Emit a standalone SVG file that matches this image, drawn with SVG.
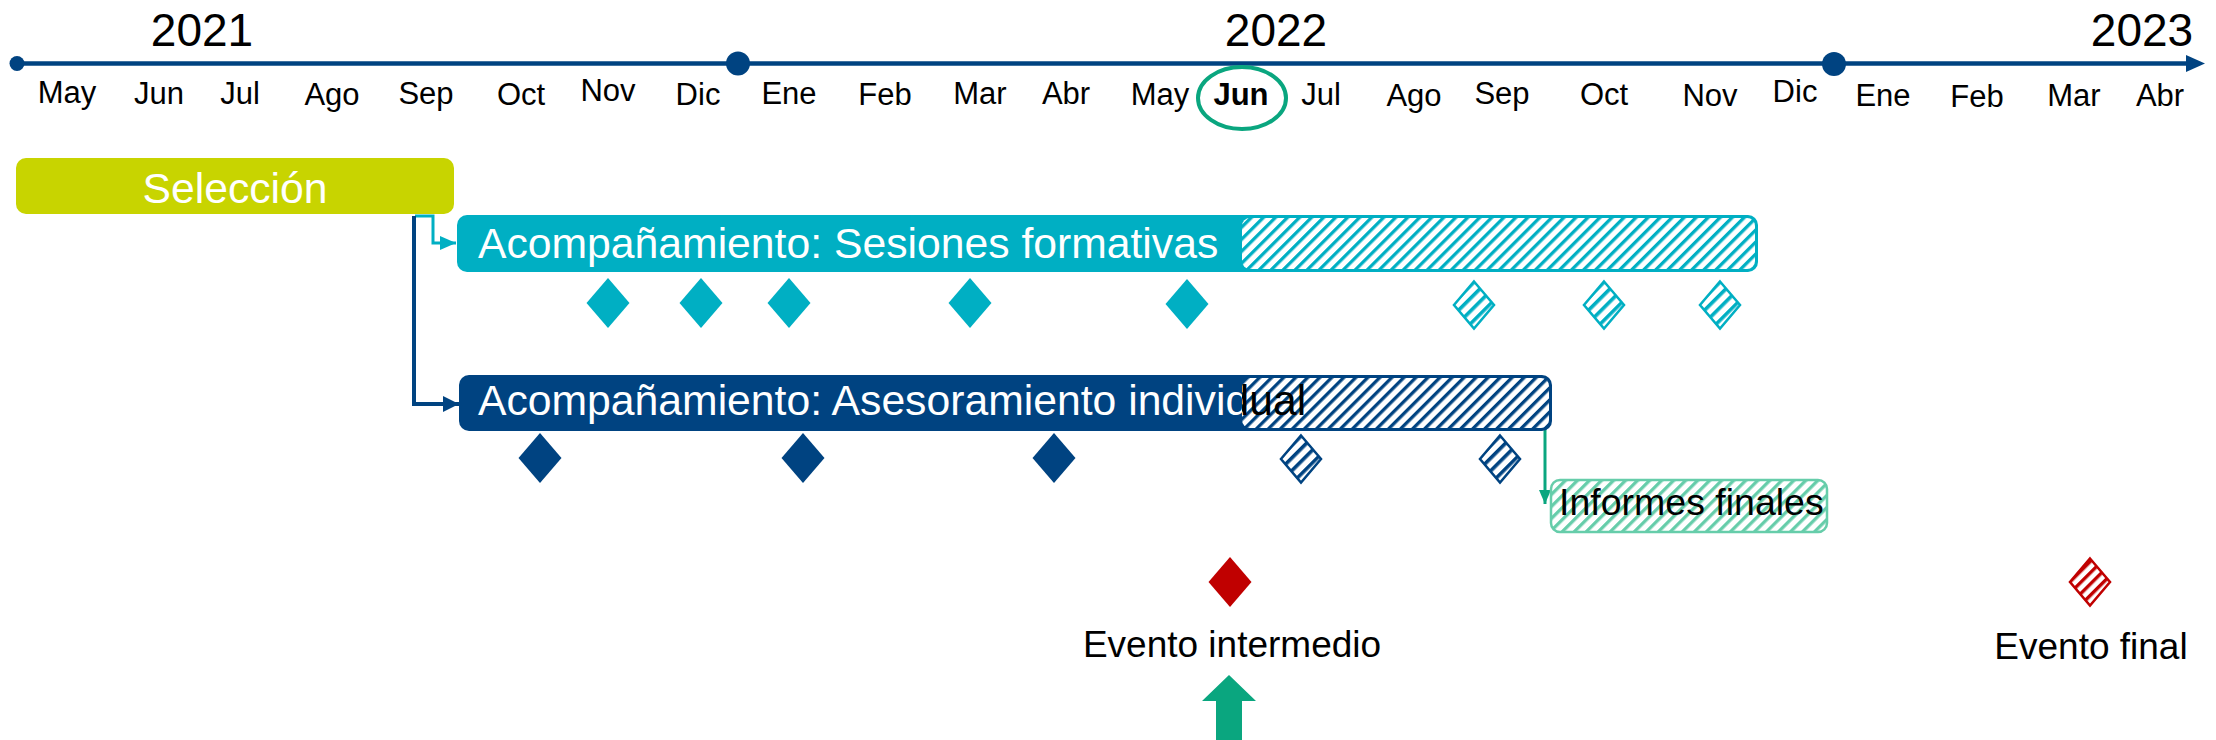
<svg xmlns="http://www.w3.org/2000/svg" width="2216" height="740" viewBox="0 0 2216 740">
<style>
text{font-family:"Liberation Sans",Arial,sans-serif;}
.yr{font-size:46px;fill:#000;text-anchor:middle;}
.mo{font-size:31px;fill:#000;text-anchor:middle;}
.bt{font-size:42.7px;fill:#fff;}
.ev{font-size:37px;fill:#000;text-anchor:middle;}
.dT{fill:#00AFC3;}
.dB{fill:#004381;}
.dR{fill:#C00000;}
.hdT{fill:url(#dhTeal);stroke:#00AFC3;stroke-width:2.5;}
.hdB{fill:url(#dhBlue);stroke:#004381;stroke-width:2.5;}
.hdR{fill:url(#dhRed);stroke:#C00000;stroke-width:2.5;}
</style>
<defs>
<pattern id="hTeal" width="8.5" height="8.5" patternUnits="userSpaceOnUse" patternTransform="rotate(45)"><rect width="8.5" height="8.5" fill="#fff"/><rect width="3.3" height="8.5" fill="#00AFC3"/></pattern>
<pattern id="hBlue" width="8.5" height="8.5" patternUnits="userSpaceOnUse" patternTransform="rotate(45)"><rect width="8.5" height="8.5" fill="#fff"/><rect width="3.3" height="8.5" fill="#004381"/></pattern>
<pattern id="hGreen" width="8.5" height="8.5" patternUnits="userSpaceOnUse" patternTransform="rotate(45)"><rect width="8.5" height="8.5" fill="#fff"/><rect width="3.3" height="8.5" fill="#66CDAA"/></pattern>
<pattern id="dhTeal" width="9" height="9" patternUnits="userSpaceOnUse" patternTransform="rotate(45)"><rect width="9" height="9" fill="#fff"/><rect width="3.6" height="9" fill="#00AFC3"/></pattern>
<pattern id="dhBlue" width="9" height="9" patternUnits="userSpaceOnUse" patternTransform="rotate(45)"><rect width="9" height="9" fill="#fff"/><rect width="3.6" height="9" fill="#004381"/></pattern>
<pattern id="dhRed" width="8" height="8" patternUnits="userSpaceOnUse" patternTransform="rotate(45)"><rect width="8" height="8" fill="#fff"/><rect width="3.4" height="8" fill="#C00000"/></pattern>
<path id="dia" d="M0,-25 L21.5,0 L0,25 L-21.5,0 Z"/>
<path id="diah" d="M0,-23.5 L20,0 L0,23.5 L-20,0 Z"/>
<marker id="aTeal" markerUnits="userSpaceOnUse" markerWidth="16" markerHeight="14" refX="16" refY="7" orient="auto"><path d="M0,0 L16,7 L0,14 Z" fill="#00AFC3"/></marker>
<marker id="aBlue" markerUnits="userSpaceOnUse" markerWidth="16" markerHeight="16" refX="16" refY="8" orient="auto"><path d="M0,0 L16,8 L0,16 Z" fill="#004381"/></marker>
<marker id="aGreen" markerUnits="userSpaceOnUse" markerWidth="14" markerHeight="12" refX="14" refY="6" orient="auto"><path d="M0,0 L14,6 L0,12 Z" fill="#0AA67F"/></marker>
<clipPath id="cLeft"><rect x="0" y="0" width="1242" height="740"/></clipPath>
<clipPath id="cRight"><rect x="1242" y="0" width="974" height="740"/></clipPath>
</defs>

<g id="timeline">
<line x1="17" y1="63.5" x2="2188" y2="63.5" stroke="#004381" stroke-width="4.5"/>
<path d="M2186,55 L2205,63.5 L2186,72 Z" fill="#004381"/>
<circle cx="17" cy="63.5" r="7.5" fill="#004381"/>
<circle cx="738" cy="63.5" r="12" fill="#004381"/>
<circle cx="1834" cy="64" r="12" fill="#004381"/>
<text class="yr" x="202" y="46">2021</text>
<text class="yr" x="1276" y="46">2022</text>
<text class="yr" x="2142" y="46">2023</text>
<text class="mo" x="67" y="103">May</text>
<text class="mo" x="159" y="104">Jun</text>
<text class="mo" x="240" y="104">Jul</text>
<text class="mo" x="332" y="105">Ago</text>
<text class="mo" x="426" y="104">Sep</text>
<text class="mo" x="521" y="105">Oct</text>
<text class="mo" x="608" y="101">Nov</text>
<text class="mo" x="698" y="105">Dic</text>
<text class="mo" x="789" y="104">Ene</text>
<text class="mo" x="885" y="105">Feb</text>
<text class="mo" x="980" y="104">Mar</text>
<text class="mo" x="1066" y="104">Abr</text>
<text class="mo" x="1160" y="105">May</text>
<text class="mo" x="1241" y="105" font-weight="bold">Jun</text>
<text class="mo" x="1321" y="105">Jul</text>
<text class="mo" x="1414" y="106">Ago</text>
<text class="mo" x="1502" y="104">Sep</text>
<text class="mo" x="1604" y="105">Oct</text>
<text class="mo" x="1710" y="106">Nov</text>
<text class="mo" x="1795" y="102">Dic</text>
<text class="mo" x="1883" y="106">Ene</text>
<text class="mo" x="1977" y="107">Feb</text>
<text class="mo" x="2074" y="106">Mar</text>
<text class="mo" x="2160" y="106">Abr</text>
<ellipse cx="1242" cy="98" rx="44" ry="31" fill="none" stroke="#0AA67F" stroke-width="4"/>
</g>

<g id="connectors" fill="none">
<path d="M415,216 H433 V243 H456" stroke="#00AFC3" stroke-width="3" marker-end="url(#aTeal)"/>
<path d="M414,216 V404 H459" stroke="#004381" stroke-width="4" marker-end="url(#aBlue)"/>
<path d="M1545,401 V504" stroke="#0AA67F" stroke-width="3" marker-end="url(#aGreen)"/>
</g>

<g id="seleccion">
<rect x="16" y="158" width="438" height="56" rx="10" fill="#C8D400"/>
<text class="bt" x="235" y="203" text-anchor="middle">Selección</text>
</g>

<g id="sesiones">
<rect x="457" y="215" width="1301" height="57" rx="10" fill="#00AFC3"/>
<rect x="1242" y="218" width="513" height="51" rx="8" fill="url(#hTeal)"/>
<text class="bt" x="478" y="258">Acompañamiento: Sesiones formativas</text>
</g>

<g id="asesoramiento">
<rect x="459" y="375" width="1093" height="56" rx="10" fill="#004381"/>
<rect x="1242" y="378" width="307" height="50" rx="8" fill="url(#hBlue)"/>
<text class="bt" x="478" y="415" clip-path="url(#cLeft)">Acompañamiento: Asesoramiento individual</text>
<text class="bt" x="478" y="415" style="fill:#000" clip-path="url(#cRight)">Acompañamiento: Asesoramiento individual</text>
</g>

<g id="informes">
<rect x="1551" y="480" width="276" height="52" rx="9" fill="url(#hGreen)" stroke="#66CDAA" stroke-width="2.5"/>
<text x="1559" y="515" font-size="37.5" fill="#000">Informes finales</text>
</g>

<g id="hitos-sesiones">
<use href="#dia" x="608" y="303" class="dT"/>
<use href="#dia" x="701" y="303" class="dT"/>
<use href="#dia" x="789" y="303" class="dT"/>
<use href="#dia" x="970" y="303" class="dT"/>
<use href="#dia" x="1187" y="304" class="dT"/>
<use href="#diah" x="1474" y="305" class="hdT"/>
<use href="#diah" x="1604" y="305" class="hdT"/>
<use href="#diah" x="1720" y="305" class="hdT"/>
</g>

<g id="hitos-asesoramiento">
<use href="#dia" x="540" y="458" class="dB"/>
<use href="#dia" x="803" y="458" class="dB"/>
<use href="#dia" x="1054" y="458" class="dB"/>
<use href="#diah" x="1301" y="459" class="hdB"/>
<use href="#diah" x="1500" y="459" class="hdB"/>
</g>

<g id="evento-intermedio">
<use href="#dia" x="1230" y="582" class="dR"/>
<text class="ev" x="1232" y="657">Evento intermedio</text>
</g>

<g id="evento-final">
<use href="#diah" x="2090" y="582" class="hdR"/>
<text class="ev" x="2091" y="659">Evento final</text>
</g>

<g id="flecha-hoy">
<path d="M1229,675 L1256,701 L1242,701 L1242,740 L1216,740 L1216,701 L1202,701 Z" fill="#0AA67F"/>
</g>
</svg>
